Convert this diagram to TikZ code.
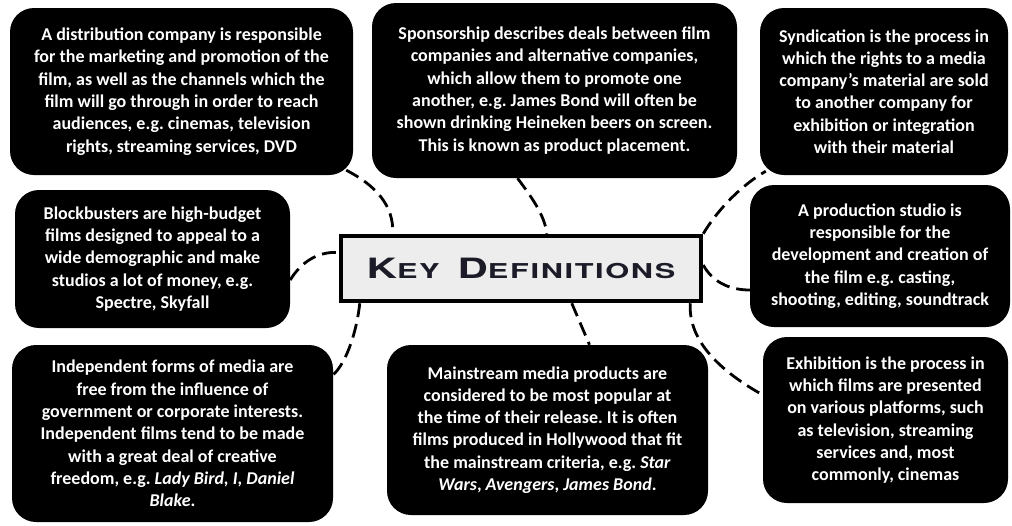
\documentclass[tikz,border=0pt]{standalone}
\usepackage{fontspec}
\setmainfont{Carlito}
\newfontfamily\headfont[FakeStretch=1.5,LetterSpace=8]{TeX Gyre Heros}
\usetikzlibrary{calc}
\definecolor{keyfill}{HTML}{EDEDED}
\definecolor{keyink}{HTML}{1C1C28}
\frenchspacing
% small-caps heading: large capital, smaller capitals
\newcommand\kdcap[1]{{\fontsize{28}{28}\selectfont #1}}
\newcommand\kdsmall[1]{{\fontsize{20.5}{20.5}\selectfont #1}}
\begin{document}
\begin{tikzpicture}[x=1pt,y=-1pt,
  defbox/.style={draw=none, fill=black, rounded corners=24pt, inner sep=0pt,
    text=white, align=center, font=\fontsize{18}{22.3}\selectfont\bfseries},
  keybox/.style={draw=black, line width=4.5pt, fill=keyfill, inner sep=0pt,
    text=keyink, font=\headfont\bfseries},
  conn/.style={line width=2.8pt, dash pattern=on 14pt off 7pt}]
\useasboundingbox (0,0) rectangle (1012,525);
\fill[white] (0,0) rectangle (1012,525);

% definition boxes
\node[defbox, minimum width=343pt, minimum height=167pt] (dist) at (181.5,91.5)
  {A distribution company is responsible\\for the marketing and promotion of the\\film, as well as the channels which the\\film will go through in order to reach\\audiences, e.g. cinemas, television\\rights, streaming services, DVD};
\node[defbox, minimum width=365pt, minimum height=175pt] (spon) at (554.5,90.5)
  {Sponsorship describes deals between film\\companies and alternative companies,\\which allow them to promote one\\another, e.g. James Bond will often be\\shown drinking Heineken beers on screen.\\This is known as product placement.};
\node[defbox, minimum width=248pt, minimum height=167pt] (synd) at (884,91.5)
  {Syndication is the process in\\which the rights to a media\\company’s material are sold\\to another company for\\exhibition or integration\\with their material};
\node[defbox, minimum width=275pt, minimum height=138pt] (block) at (152.5,259)
  {Blockbusters are high-budget\\films designed to appeal to a\\wide demographic and make\\studios a lot of money, e.g.\\Spectre, Skyfall};
\node[defbox, minimum width=260pt, minimum height=142pt] (prod) at (880,256)
  {A production studio is\\responsible for the\\development and creation of\\the film e.g. casting,\\shooting, editing, soundtrack};
\node[defbox, minimum width=321pt, minimum height=177pt] (indep) at (172.5,433.5)
  {Independent forms of media are\\free from the influence of\\government or corporate interests.\\Independent films tend to be made\\with a great deal of creative\\freedom, e.g. \textit{Lady Bird, I, Daniel}\\\textit{Blake}.};
\node[defbox, minimum width=321pt, minimum height=170pt] (main) at (547.5,430)
  {Mainstream media products are\\considered to be most popular at\\the time of their release. It is often\\films produced in Hollywood that fit\\the mainstream criteria, e.g. \textit{Star}\\\textit{Wars}, \textit{Avengers}, \textit{James Bond}.};
\node[defbox, minimum width=245pt, minimum height=166pt] (exhib) at (885.5,420)
  {Exhibition is the process in\\which films are presented\\on various platforms, such\\as television, streaming\\services and, most\\commonly, cinemas};

% central heading
\node[keybox, minimum width=360pt, minimum height=65pt] (key) at (521,268.5)
  {\kdcap{K}\kdsmall{EY}\hspace{18pt}\kdcap{D}\kdsmall{EFINITIONS}};

% dashed connectors from the heading to each box
\draw[conn] ($(dist.south east)+(-7,-5)$) .. controls (375,185) and (394,205) .. ($(key.north west)+(54,0)$);
\draw[conn] ($(block.east)+(0,21)$) .. controls (300,264) and (316,251) .. ($(key.west)+(0,-16)$);
\draw[conn] ($(key.south west)+(21,0)$) .. controls (357,330) and (347,362) .. ($(indep.north east)+(0,30)$);
\draw[conn] ($(spon.south)+(-37,0)$) .. controls (530,195) and (545,215) .. ($(key.north west)+(208,0)$);
\draw[conn] (key.north east) .. controls (715,214) and (737,188) .. ($(synd.south west)+(6,-4)$);
\draw[conn] ($(key.east)+(0,-3.5)$) .. controls (712,281) and (728,290) .. ($(prod.west)+(0,34)$);
\draw[conn] ($(key.south west)+(233,0)$) -- ($(main.north)+(42,0)$);
\draw[conn] ($(key.south east)+(-13,0)$) .. controls (688,342) and (722,372) .. ($(exhib.west)+(0,-25)$);
\end{tikzpicture}
\end{document}
